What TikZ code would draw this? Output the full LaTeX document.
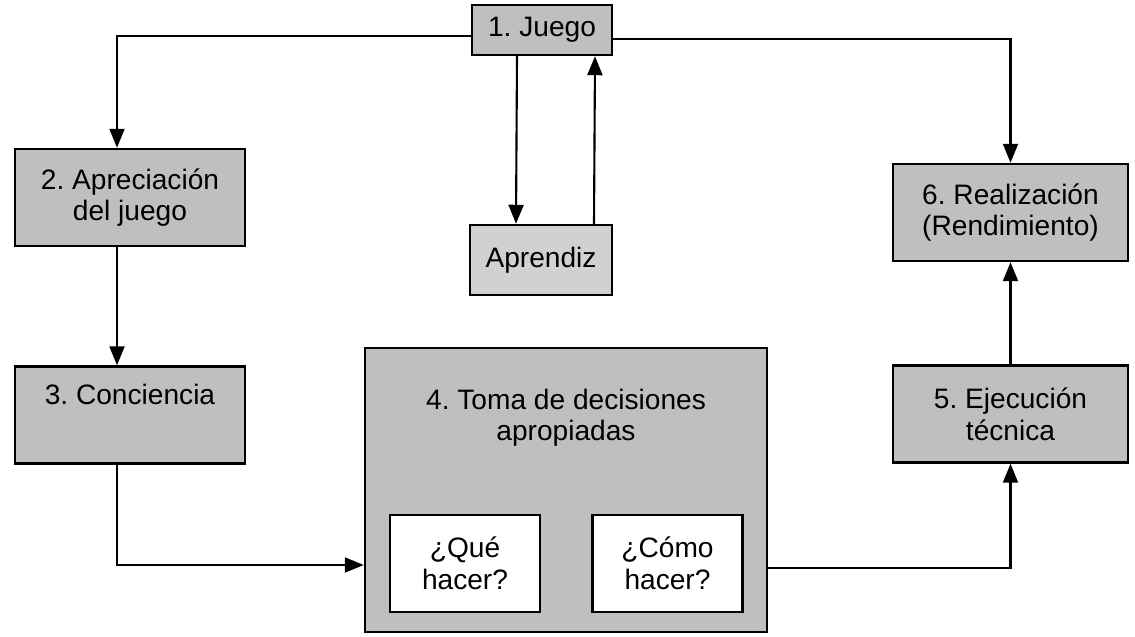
\documentclass[tikz,border=0pt]{standalone}
\usepackage{fontspec}
\setmainfont{Liberation Sans}
\usetikzlibrary{arrows.meta,positioning}
\frenchspacing

\begin{document}
\begin{tikzpicture}
		[font=\fontsize{16}{18}\selectfont,
		block/.style ={rectangle, draw=black, line width=1.4pt, fill=black!25, align=center, inner sep=2pt},
		stage/.style ={block, minimum width=4.6cm, minimum height=1.94cm},
		inner/.style ={block, fill=white, minimum width=3cm, minimum height=1.94cm},
		line/.style ={draw, line width=1.2pt, -{Triangle[length=3.8mm,width=3mm]}},
		]
		\useasboundingbox (0,0) rectangle (22.7,-12.74);

		\draw (10.84,-0.6) node[block, minimum width=2.8cm, minimum height=1cm] (juego) {1. Juego};
		\draw (2.6,-3.95) node[stage] (aprec) {2. Apreciación\\del juego};
		\draw (10.82,-5.2) node[block, fill=black!18, minimum width=2.84cm, minimum height=1.4cm] (aprendiz) {Aprendiz};
		\draw (20.21,-4.25) node[stage, minimum width=4.7cm] (real) {6. Realización\\(Rendimiento)};
		\draw (2.6,-8.3) node[stage] (conc) {3. Conciencia\\[0.2cm]\mbox{}};
		\draw (11.32,-9.8) node[block, minimum width=8.04cm, minimum height=5.68cm] (dec) {};
		\draw (dec.north) node[below=0.72cm, align=center] (dectxt) {4. Toma de decisiones\\apropiadas};
		\draw (9.3,-11.27) node[inner] (que) {¿Qué\\hacer?};
		\draw (13.35,-11.27) node[inner] (como) {¿Cómo\\hacer?};
		\draw (20.21,-8.28) node[stage, minimum width=4.7cm] (ejec) {5. Ejecución\\técnica};

		% connectors
		\path[line] ([yshift=-0.12cm]juego.west) -| ([xshift=-0.26cm]aprec.north);
		\path[line] ([yshift=-0.18cm]juego.east) -| (real.north);
		\path[line] ([xshift=-0.5cm]juego.south) -- ([xshift=-0.5cm]aprendiz.north);
		\path[line] ([xshift=1.06cm]aprendiz.north) -- ([xshift=1.06cm]juego.south);
		\path[line] ([xshift=-0.26cm]aprec.south) -- ([xshift=-0.26cm]conc.north);
		\path[line] ([xshift=-0.26cm]conc.south) |- ([yshift=-1.5cm]dec.west);
		\path[line] ([yshift=-1.56cm]dec.east) -| (ejec.south);
		\path[line] (ejec.north) -- (real.south);

	\end{tikzpicture}
\end{document}
